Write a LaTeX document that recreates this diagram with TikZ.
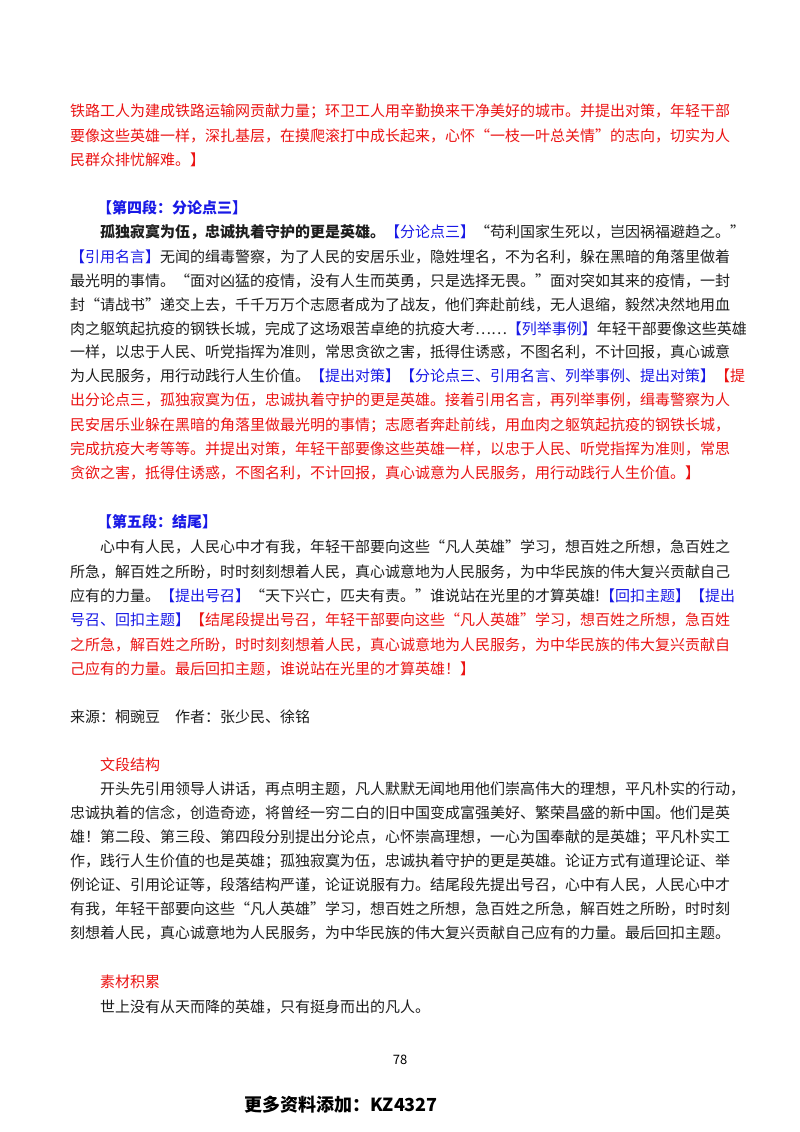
\documentclass[tikz,border=0pt]{standalone}
\usepackage{fontspec}
\setmainfont{Noto Sans CJK SC}
\XeTeXlinebreaklocale "zh"
\XeTeXlinebreakskip=0pt plus 2pt
\definecolor{myred}{RGB}{235,20,20}
\definecolor{myblue}{RGB}{25,25,230}
\definecolor{txt}{RGB}{30,30,30}
\newcommand{\Rd}[1]{\textcolor{myred}{#1}}
\newcommand{\Bl}[1]{\textcolor{myblue}{#1}}
\newcommand{\Ja}[1]{\makebox[670pt][s]{#1}}
\newcommand{\Jb}[1]{\makebox[640pt][s]{#1}}
\begin{document}
\begin{tikzpicture}[x=1pt,y=-1pt,
  ln/.style={anchor=west,inner sep=0pt,font=\fontsize{15}{15}\selectfont,text=txt}]
\useasboundingbox[fill=white] (0,0) rectangle (800,1132);
\node[ln] (l1) at (70,111) {\Ja{\Rd{铁路工人为建成铁路运输网贡献力量；环卫工人用辛勤换来干净美好的城市。并提出对策，年轻干部}}};
\node[ln] (l2) at (70,136) {\Ja{\Rd{要像这些英雄一样，深扎基层，在摸爬滚打中成长起来，心怀“一枝一叶总关情”的志向，切实为人}}};
\node[ln] (l3) at (70,160) {\Rd{民群众排忧解难。】}};
\node[ln] (l4) at (97,208) {\bfseries\Bl{【第四段：分论点三】}};
\node[ln] (l5) at (100,232.5) {\Jb{\bfseries 孤独寂寞为伍，忠诚执着守护的更是英雄。\mdseries\Bl{【分论点三】}“苟利国家生死以，岂因祸福避趋之。”}};
\node[ln] (l6) at (70,257) {\Ja{\Bl{【引用名言】}无闻的缉毒警察，为了人民的安居乐业，隐姓埋名，不为名利，躲在黑暗的角落里做着}};
\node[ln] (l7) at (70,281) {\Ja{最光明的事情。“面对凶猛的疫情，没有人生而英勇，只是选择无畏。”面对突如其来的疫情，一封}};
\node[ln] (l8) at (70,305) {\Ja{封“请战书”递交上去，千千万万个志愿者成为了战友，他们奔赴前线，无人退缩，毅然决然地用血}};
\node[ln] (l9) at (70,329) {\Ja{肉之躯筑起抗疫的钢铁长城，完成了这场艰苦卓绝的抗疫大考……\Bl{【列举事例】}年轻干部要像这些英雄}};
\node[ln] (l10) at (70,352) {\Ja{一样，以忠于人民、听党指挥为准则，常思贪欲之害，抵得住诱惑，不图名利，不计回报，真心诚意}};
\node[ln] (l11) at (70,376) {\Ja{为人民服务，用行动践行人生价值。\Bl{【提出对策】【分论点三、引用名言、列举事例、提出对策】}\Rd{【提}}};
\node[ln] (l12) at (70,400) {\Ja{\Rd{出分论点三，孤独寂寞为伍，忠诚执着守护的更是英雄。接着引用名言，再列举事例，缉毒警察为人}}};
\node[ln] (l13) at (70,425) {\Ja{\Rd{民安居乐业躲在黑暗的角落里做最光明的事情；志愿者奔赴前线，用血肉之躯筑起抗疫的钢铁长城，}}};
\node[ln] (l14) at (70,449) {\Ja{\Rd{完成抗疫大考等等。并提出对策，年轻干部要像这些英雄一样，以忠于人民、听党指挥为准则，常思}}};
\node[ln] (l15) at (70,473) {\Rd{贪欲之害，抵得住诱惑，不图名利，不计回报，真心诚意为人民服务，用行动践行人生价值。】}};
\node[ln] (l16) at (97,522) {\bfseries\Bl{【第五段：结尾】}};
\node[ln] (l17) at (100,547) {\Jb{心中有人民，人民心中才有我，年轻干部要向这些“凡人英雄”学习，想百姓之所想，急百姓之}};
\node[ln] (l18) at (70,572) {\Ja{所急，解百姓之所盼，时时刻刻想着人民，真心诚意地为人民服务，为中华民族的伟大复兴贡献自己}};
\node[ln] (l19) at (70,596) {\Ja{应有的力量。\Bl{【提出号召】}“天下兴亡，匹夫有责。”谁说站在光里的才算英雄!\Bl{【回扣主题】【提出}}};
\node[ln] (l20) at (70,620) {\Ja{\Bl{号召、回扣主题】}\Rd{【结尾段提出号召，年轻干部要向这些“凡人英雄”学习，想百姓之所想，急百姓}}};
\node[ln] (l21) at (70,645) {\Ja{\Rd{之所急，解百姓之所盼，时时刻刻想着人民，真心诚意地为人民服务，为中华民族的伟大复兴贡献自}}};
\node[ln] (l22) at (70,669) {\Rd{己应有的力量。最后回扣主题，谁说站在光里的才算英雄！】}};
\node[ln] (l23) at (70,717) {来源：桐豌豆\quad 作者：张少民、徐铭};
\node[ln] (l24) at (100,765) {\Rd{文段结构}};
\node[ln] (l25) at (100,789) {\Jb{开头先引用领导人讲话，再点明主题，凡人默默无闻地用他们崇高伟大的理想，平凡朴实的行动，}};
\node[ln] (l26) at (70,813) {\Ja{忠诚执着的信念，创造奇迹，将曾经一穷二白的旧中国变成富强美好、繁荣昌盛的新中国。他们是英}};
\node[ln] (l27) at (70,837) {\Ja{雄！第二段、第三段、第四段分别提出分论点，心怀崇高理想，一心为国奉献的是英雄；平凡朴实工}};
\node[ln] (l28) at (70,861) {\Ja{作，践行人生价值的也是英雄；孤独寂寞为伍，忠诚执着守护的更是英雄。论证方式有道理论证、举}};
\node[ln] (l29) at (70,885) {\Ja{例论证、引用论证等，段落结构严谨，论证说服有力。结尾段先提出号召，心中有人民，人民心中才}};
\node[ln] (l30) at (70,909) {\Ja{有我，年轻干部要向这些“凡人英雄”学习，想百姓之所想，急百姓之所急，解百姓之所盼，时时刻}};
\node[ln] (l31) at (70,933) {\Ja{刻想着人民，真心诚意地为人民服务，为中华民族的伟大复兴贡献自己应有的力量。最后回扣主题。}};
\node[ln] (l32) at (100,982) {\Rd{素材积累}};
\node[ln] (l33) at (100,1007) {世上没有从天而降的英雄，只有挺身而出的凡人。};
\node[inner sep=0pt,font=\fontsize{13}{13}\selectfont] (pg) at (400,1060) {78};
\node[inner sep=0pt,font=\bfseries\fontsize{18}{18}\selectfont] (ad) at (341,1105) {更多资料添加：KZ4327};
\end{tikzpicture}
\end{document}
